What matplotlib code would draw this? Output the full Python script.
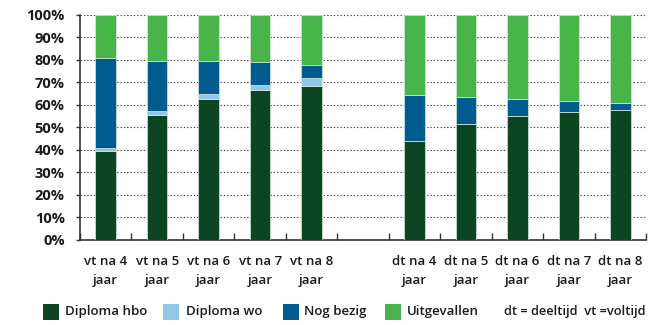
import numpy as np
import matplotlib.pyplot as plt
from matplotlib.patches import Rectangle

plt.rcParams['font.family'] = ['Open Sans', 'DejaVu Sans']

# Groups: full-time (vt) and part-time (dt), one empty slot in between
labels = ['vt na 4\njaar', 'vt na 5\njaar', 'vt na 6\njaar', 'vt na 7\njaar', 'vt na 8\njaar', '',
          'dt na 4\njaar', 'dt na 5\njaar', 'dt na 6\njaar', 'dt na 7\njaar', 'dt na 8\njaar']

# Percentages per status (empty slot = 0)
diploma_hbo = [39.4, 55.6, 62.7, 66.7, 68.5, 0, 44.0, 51.6, 54.8, 56.9, 57.5]
diploma_wo = [1.5, 1.6, 1.9, 1.9, 3.4, 0, 0, 0, 0, 0, 0]
nog_bezig = [39.9, 22.4, 15.0, 10.3, 5.7, 0, 20.5, 11.7, 7.9, 4.6, 3.3]
uitgevallen = [19.2, 20.4, 20.4, 21.1, 22.4, 0, 35.5, 36.7, 37.3, 38.5, 39.2]

series = [
    ('Diploma hbo', diploma_hbo, '#0c4522'),
    ('Diploma wo', diploma_wo, '#8fc8e8'),
    ('Nog bezig', nog_bezig, '#005b8f'),
    ('Uitgevallen', uitgevallen, '#47b54a'),
]

W, H = 648, 325
fig = plt.figure(figsize=(W / 100, H / 100), dpi=100)
ax = fig.add_axes([80 / W, 85.5 / H, 566 / W, 224.5 / H])

x = np.arange(len(labels))
bottom = np.zeros(len(labels))
for name, vals, col in series:
    vals = np.array(vals)
    ax.bar(x, vals, 0.4, bottom=bottom, color=col, edgecolor='#d8e8dc',
           linewidth=0.5, zorder=3)
    bottom += vals

ax.set_xlim(-0.5, len(labels) - 0.5)
ax.set_ylim(0, 100)
ax.set_yticks(np.arange(0, 101, 10))
ax.set_yticklabels([f'{v}%' for v in range(0, 101, 10)])
ax.yaxis.grid(True, linestyle=(0, (1.2, 1.8)), color='#444444', linewidth=0.8, zorder=1)

ax.set_xticks(x)
ax.set_xticklabels(labels, linespacing=1.65)
ax.set_xticks(np.arange(-0.5, len(labels), 1), minor=True)
ax.tick_params(axis='x', which='major', length=0, pad=11)
ax.tick_params(axis='x', which='minor', length=5, width=1, color='#333333', direction='in')
ax.tick_params(axis='y', length=3, width=1, color='#333333', pad=8)
for lab in ax.get_xticklabels():
    lab.set_fontsize(9.5)
    lab.set_fontweight('semibold')
    lab.set_color('#1a1a1a')
for lab in ax.get_yticklabels():
    lab.set_fontsize(10.5)
    lab.set_fontweight('bold')
    lab.set_color('#1a1a1a')

for side in ['top', 'right']:
    ax.spines[side].set_visible(False)
for side in ['left', 'bottom']:
    ax.spines[side].set_linewidth(1.2)
    ax.spines[side].set_color('#333333')

# Legend row, laid out by hand
swatch_x = [43, 163, 283, 385]
label_x = [65, 186, 304, 407]
ly = 312
for sx, lx, (name, _, col) in zip(swatch_x, label_x, series):
    fig.add_artist(Rectangle((sx / W, (H - ly - 8) / H), 16 / W, 16 / H,
                             transform=fig.transFigure, facecolor=col, edgecolor='none'))
    fig.text(lx / W, (H - ly) / H, name, fontsize=9.5, fontweight='semibold',
             color='#1a1a1a', va='center', ha='left')
fig.text(646 / W, (H - ly) / H, 'dt = deeltijd  vt =voltijd', fontsize=9.3,
         fontweight='semibold', color='#1a1a1a', va='center', ha='right')

fig.savefig('out.png', dpi=100)
